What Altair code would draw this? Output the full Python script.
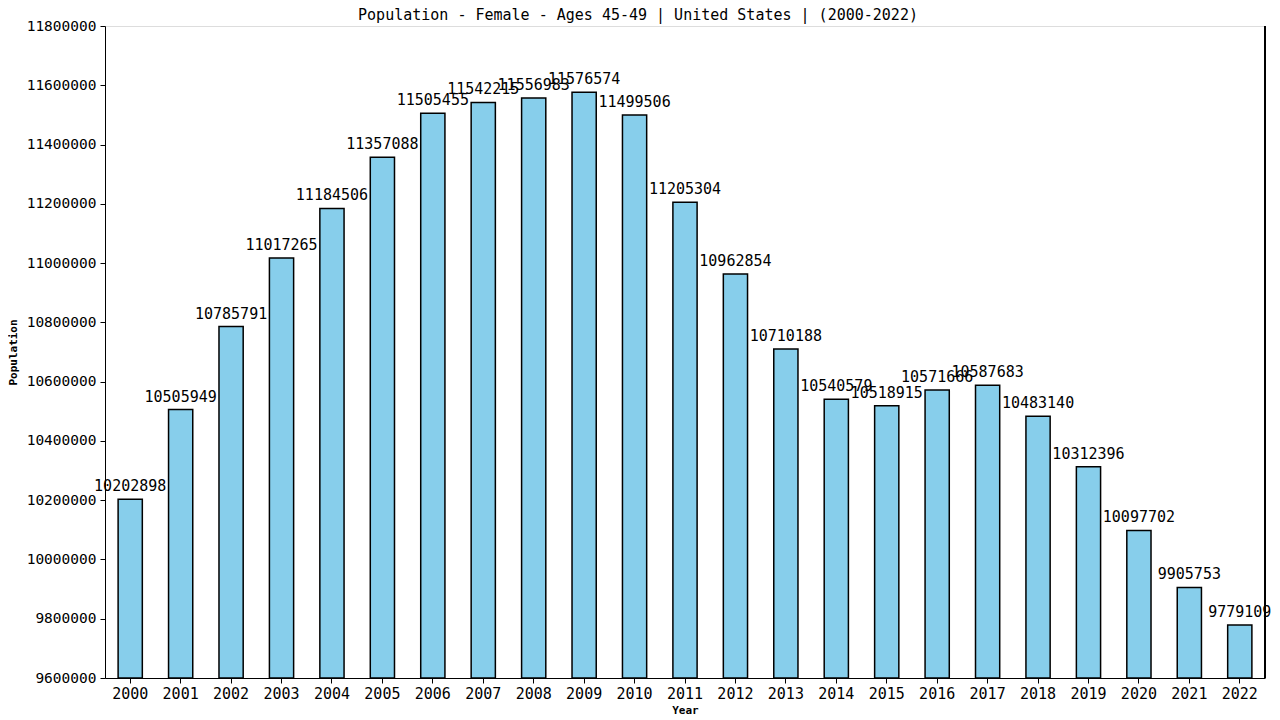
import altair as alt
import pandas as pd

years = [str(y) for y in range(2000, 2023)]
population = [10202898, 10505949, 10785791, 11017265, 11184506, 11357088, 11505455,
              11542215, 11556983, 11576574, 11499506, 11205304, 10962854, 10710188,
              10540579, 10518915, 10571666, 10587683, 10483140, 10312396, 10097702,
              9905753, 9779109]
y_min, y_max = 9600000, 11800000
y_ticks = list(range(y_min, y_max + 1, 200000))
title_text = ["Population - Female - Ages 45-49 | United States |  (2000-2022)"]

df = pd.DataFrame({"Year": years, "Population": population})

FONT = "DejaVu Sans Mono"
W, H = 1160, 652

base = alt.Chart(df).encode(
    x=alt.X("Year:N", sort=years,
            scale=alt.Scale(paddingInner=0.52, paddingOuter=0.26),
            axis=alt.Axis(title="Year", labelAngle=0, labelFont=FONT, labelFontSize=15,
                          labelColor="black", titleFont=FONT, titleFontSize=11,
                          titleFontWeight="bold", titleColor="black", domainColor="black",
                          tickColor="black", tickSize=5, titlePadding=3, labelPadding=3)),
)

y_enc = alt.Y("Population:Q",
              scale=alt.Scale(domain=[y_min, y_max], zero=False, nice=False),
              axis=alt.Axis(title="Population", values=y_ticks, format="d", grid=False,
                            labelFont=FONT, labelFontSize=14.5, labelColor="black",
                            titleFont=FONT, titleFontSize=11, titleFontWeight="bold",
                            titleColor="black", domainColor="black", tickColor="black",
                            tickSize=5, titlePadding=8, labelPadding=4))

bars = base.mark_bar(color="#87CEEB", stroke="black", strokeWidth=1.5).encode(
    y=y_enc, y2=alt.datum(y_min)
)

labels = base.mark_text(font=FONT, fontSize=15, color="black", baseline="bottom", dy=-5).encode(
    y=alt.Y("Population:Q"),
    text=alt.Text("Population:Q", format="d"),
)

border = alt.Chart(df).mark_rule(color="black", strokeWidth=1).encode(
    x=alt.value(W), y=alt.value(0), y2=alt.value(H)
)

title = alt.Chart(pd.DataFrame({"t": title_text})).mark_text(
    font=FONT, fontSize=15, color="black", align="center", baseline="alphabetic"
).encode(x=alt.value(W / 2 - 47), y=alt.value(-6), text="t:N")

chart = alt.layer(bars, labels, border, title).properties(
    width=W, height=H,
    padding={"left": 97, "top": 18, "right": 7, "bottom": 42},
    autosize=alt.AutoSizeParams(type="none"),
).configure_view(stroke=None).configure(background="white")

chart.save("out.html", embed_options={"renderer": "svg", "actions": False})
